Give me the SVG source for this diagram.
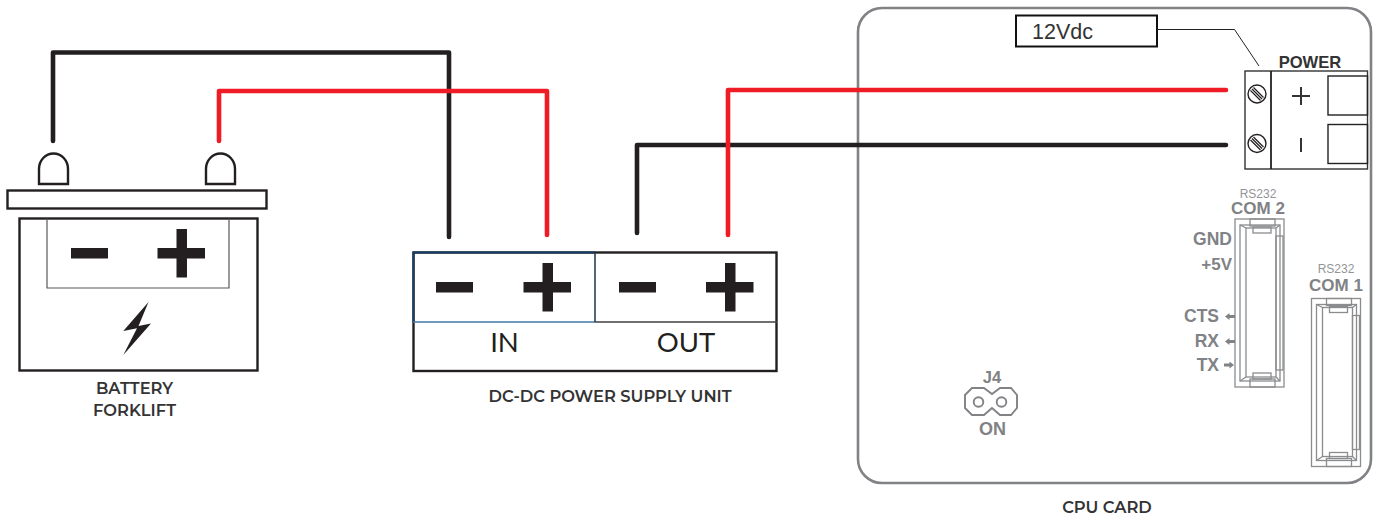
<svg xmlns="http://www.w3.org/2000/svg" width="1377" height="517" viewBox="0 0 1377 517">
<style>
.b{fill:#231f20}
.wk{fill:none;stroke:#231f20;stroke-width:4.600;stroke-linecap:round;stroke-linejoin:round}
.wr{fill:none;stroke:#ef1c26;stroke-width:4.600;stroke-linecap:round;stroke-linejoin:round}
.o{fill:none;stroke:#231f20;stroke-width:2.400}
.l{font-family:"Montserrat","Lato","Liberation Sans",sans-serif;font-weight:600;font-size:16.300px;fill:#333;text-anchor:middle}
.big{font-family:"Lato","Liberation Sans",sans-serif;font-size:27.500px;fill:#231f20;text-anchor:middle}
.g{font-family:"Liberation Sans",sans-serif;font-weight:700;fill:#808285;text-anchor:middle}
.e{text-anchor:end}
.gs{font-family:"Liberation Sans",sans-serif;font-size:12px;fill:#939598;text-anchor:middle}
.c{fill:none;stroke:#8a8c8e;stroke-width:1.300}
.gf{fill:#808285}
</style>
<defs>
<g id="plus"><rect x="-24" y="-5" width="47.500" height="10.500" class="b"/><rect x="-5" y="-24" width="10.500" height="48.500" class="b"/></g>
<g id="screw"><circle r="9" fill="#fff" stroke="#231f20" stroke-width="1.400"/><path d="M-6.500-3.500 3.500 6.500M-3.500-6.500 6.500 3.500M-5-5 5 5" stroke="#231f20" stroke-width="1.200" fill="none"/></g>
<g id="conn">
<rect x="0" y="0" width="49" height="168" class="c"/>
<rect x="5" y="6" width="40" height="156" class="c"/>
<rect x="11" y="9" width="30" height="149" class="c"/>
<path d="M5 6 11 9M45 6 41 9M5 162 11 158M45 162 41 158" class="c"/>
<rect x="15" y="0" width="25" height="7" fill="#fff" class="c"/>
<rect x="18" y="8" width="18" height="6" fill="#fff" class="c"/>
<rect x="18" y="154" width="18" height="6" fill="#fff" class="c"/>
<rect x="15" y="160" width="25" height="8" fill="#fff" class="c"/>
<rect x="41" y="17" width="7" height="134" fill="#fff" class="c"/>
</g>
</defs>
<g id="battery">
<path d="M39 184V169a14.500 15.500 0 0 1 29 0V184Z" class="o"/>
<path d="M206 184V169a14.500 15.500 0 0 1 29 0V184Z" class="o"/>
<rect x="7.500" y="190.500" width="259" height="18" class="o"/>
<rect x="19.500" y="218.500" width="238" height="152" class="o"/>
<path d="M47 218.500V288H229V218.500" fill="none" stroke="#58595b" stroke-width="1.200"/>
<rect x="71" y="248" width="37" height="10.500" class="b"/>
<use href="#plus" x="181.500" y="253"/>
<path d="M148.500 302 123.300 331 137 328.300 123.300 355 151 323.500 138.500 326Z" class="b"/>
<text class="l" x="134.500" y="394">BATTERY</text>
<text class="l" x="134.500" y="416">FORKLIFT</text>
</g>
<g id="psu">
<rect x="413.500" y="252.500" width="363" height="118.500" class="o"/>
<path d="M413.500 322V252.500H595" fill="none" stroke="#153f66" stroke-width="2"/>
<path d="M413 322H595" fill="none" stroke="#3f78a8" stroke-width="1.500"/>
<path d="M595 252V322" fill="none" stroke="#1d3347" stroke-width="1.500"/>
<path d="M595 322H777" stroke="#414042" stroke-width="1.300" fill="none"/>
<rect x="436" y="282" width="37" height="10.500" class="b"/>
<use href="#plus" x="547.500" y="287"/>
<rect x="619" y="282" width="37" height="10.500" class="b"/>
<use href="#plus" x="730" y="287"/>
<text class="big" x="504.500" y="352">IN</text>
<text class="big" x="686" y="352">OUT</text>
<text class="l" x="610" y="402">DC-DC POWER SUPPLY UNIT</text>
</g>
<g id="cpu">
<rect x="858" y="8" width="513" height="475" rx="24" fill="none" stroke="#808285" stroke-width="2.600"/>
<text class="l" x="1107" y="513">CPU CARD</text>
</g>
<g id="voltage">
<rect x="1016" y="15.500" width="141" height="31" fill="none" stroke="#111" stroke-width="2"/>
<text x="1032" y="39" font-family="'Liberation Sans',sans-serif" font-size="21.500" fill="#333">12Vdc</text>
<path d="M1157 29.500H1234.500L1259 66" fill="none" stroke="#222" stroke-width="1"/>
</g>
<g id="power">
<text x="1310" y="68" font-family="'Liberation Sans',sans-serif" font-weight="700" font-size="16.600" fill="#333" text-anchor="middle">POWER</text>
<rect x="1245" y="71" width="122.500" height="98" fill="none" stroke="#333" stroke-width="1.400"/>
<path d="M1271 71V169" stroke="#222" stroke-width="1.800"/>
<rect x="1328" y="76" width="39.500" height="39" fill="none" stroke="#222" stroke-width="1.400"/>
<rect x="1328" y="124.500" width="39.500" height="39" fill="none" stroke="#222" stroke-width="1.400"/>
<use href="#screw" x="1257" y="94"/>
<use href="#screw" x="1257" y="143.500"/>
<path d="M1292 96H1310M1301 87V105M1301 138V152" stroke="#333" stroke-width="2" fill="none"/>
</g>
<g id="com2">
<text class="gs" x="1258" y="198">RS232</text>
<text class="g" font-size="17" x="1258" y="214">COM 2</text>
<use href="#conn" x="1235" y="219"/>
<text class="g e" font-size="17.500" x="1232" y="245">GND</text>
<text class="g e" font-size="17" x="1232" y="270">+5V</text>
<text class="g e" font-size="17.500" x="1219" y="322">CTS</text>
<text class="g e" font-size="17.500" x="1219" y="347">RX</text>
<text class="g e" font-size="17.500" x="1219" y="371">TX</text>
<path d="M1225 316.500 1229.500 313V315H1235V318H1229.500V320ZM1225 341.500 1229.500 338V340H1235V343H1229.500V345ZM1234 365 1229.500 361.500V363.500H1224V366.500H1229.500V368.500Z" class="gf"/>
</g>
<g id="com1">
<text class="gs" x="1336" y="273">RS232</text>
<text class="g" font-size="17" x="1336" y="291">COM 1</text>
<use href="#conn" x="1311.500" y="298.500"/>
</g>
<g id="j4">
<text class="g" font-size="16.500" x="992" y="383">J4</text>
<path d="M972 388H984L992 394 1000 388H1011L1017 395V408L1011 415H1000L992 408 984 415H972L965 408V395Z" fill="none" stroke="#808285" stroke-width="1.900"/>
<circle cx="978.500" cy="402" r="4.800" fill="none" stroke="#808285" stroke-width="1.900"/>
<circle cx="1001.500" cy="402" r="4.800" fill="none" stroke="#808285" stroke-width="1.900"/>
<text class="g" font-size="18" x="992.500" y="435">ON</text>
</g>
<g id="connectors">
<path class="wk" d="M53 141V52.500H449V237"/>
<path class="wr" d="M219 141V91H547V235"/>
<path class="wk" d="M637 233V145H1226"/>
<path class="wr" d="M728 235V90H1226"/>
</g>
</svg>
